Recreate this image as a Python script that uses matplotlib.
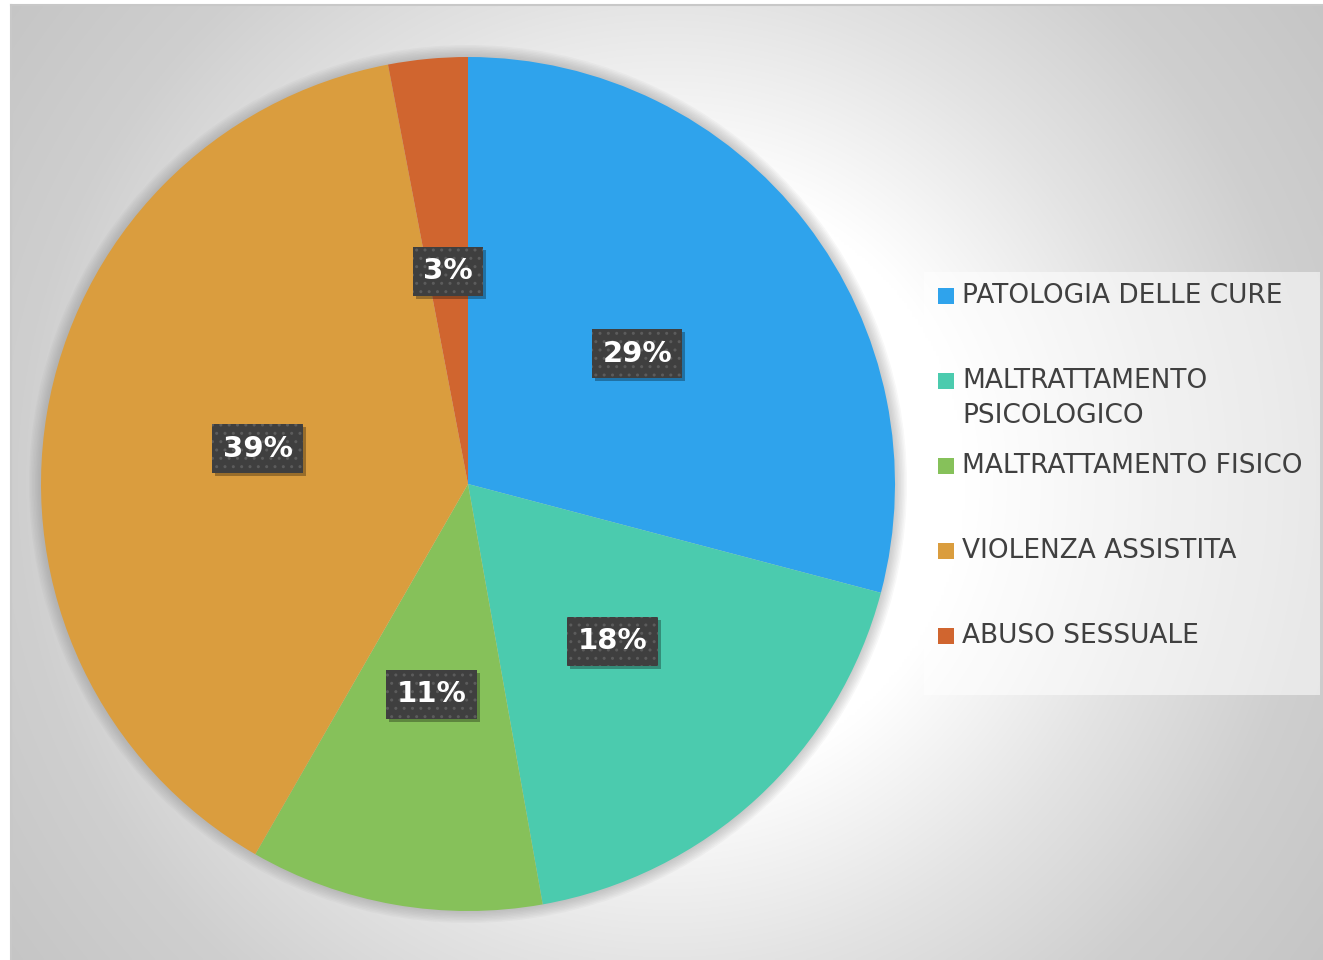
import numpy as np
import matplotlib
matplotlib.use("Agg")
import matplotlib.pyplot as plt
from matplotlib.patches import Circle, Rectangle
from matplotlib.transforms import IdentityTransform

# data
categories = ["PATOLOGIA DELLE CURE", "MALTRATTAMENTO\nPSICOLOGICO",
              "MALTRATTAMENTO FISICO", "VIOLENZA ASSISTITA", "ABUSO SESSUALE"]
shares = [29.1, 18.1, 11.1, 38.7, 3.0]
colors = ["#2FA3EC", "#4BCBAE", "#86C15A", "#DA9D3E", "#D0652F"]

W, H = 1323, 960
fig = plt.figure(figsize=(W / 100, H / 100), dpi=100)
fig.patch.set_facecolor("white")

# chart-area background: radial grey gradient around the area centre
bg = fig.add_axes([11 / W, 0, (W - 11) / W, (H - 5) / H])
xs = np.linspace(11, W, 500)
ys = np.linspace(5, H, 360)
gx, gy = np.meshgrid(xs, ys)
r = np.hypot(gx - 667, gy - 482)
shade = np.interp(r, [0, 300, 490, 650, 820], [255, 255, 227, 207, 197]) / 255.0
bg.imshow(np.dstack([shade, shade, shade]), aspect="auto", extent=[11, W, H, 5],
          interpolation="bilinear")
bg.set_xlim(11, W)
bg.set_ylim(H, 5)
bg.set_xticks([])
bg.set_yticks([])
for side in ["right", "bottom"]:
    bg.spines[side].set_visible(False)
for side in ["top", "left"]:
    bg.spines[side].set_color("#c8c8c8")
    bg.spines[side].set_linewidth(1.5)

# pie: radius 427 px, centre at (468, 484)
ax = fig.add_axes([(41 - 854 * 0.025) / W, (H - 911 - 854 * 0.025) / H,
                   854 * 1.05 / W, 854 * 1.05 / H])
ax.axis("off")

for k in range(8, 0, -1):
    ax.add_patch(Circle((0, 0), 1 + 0.0035 * k, fc="#888888", ec="none", alpha=0.06, zorder=0))

wedges, texts, autotexts = ax.pie(
    shares, colors=colors, startangle=90, counterclock=False,
    autopct="%1.0f%%", pctdistance=0.5, radius=1,
    wedgeprops=dict(linewidth=0, zorder=1),
    textprops=dict(color="white", fontsize=21, fontweight="bold", family="DejaVu Sans"),
)
ax.set_xlim(-1.05, 1.05)
ax.set_ylim(-1.05, 1.05)
ax.set_aspect("equal")

for t in autotexts:
    t.set_zorder(4)
    t.set_bbox(dict(boxstyle="square,pad=0.36", fc="#3F3F3F", ec="#5C5C5C", lw=0, hatch=".."))

# drop shadow behind each label box (drawn inside the pie axes, under the label)
fig.canvas.draw()
for t in autotexts:
    bb = t.get_bbox_patch().get_window_extent()
    ax.add_artist(Rectangle((bb.x0 + 3, bb.y0 - 3), bb.width, bb.height,
                            transform=IdentityTransform(), fc="black", ec="none",
                            alpha=0.3, zorder=3))

# legend
fig.patches.append(Rectangle((924 / W, (H - 695) / H), 396 / W, 423 / H,
                             transform=fig.transFigure, fc="white", ec="none",
                             alpha=0.55, zorder=1))
rows = [296, 381, 466, 551, 636]
for label, c, yp in zip(categories, colors, rows):
    fig.patches.append(Rectangle((938 / W, (H - yp - 8) / H), 16 / W, 16 / H,
                                 transform=fig.transFigure, fc=c, ec="none", zorder=2))
    for i, line in enumerate(label.split("\n")):
        fig.text(962 / W, (H - yp - 35 * i) / H, line, ha="left", va="center",
                 color="#404040", fontsize=19, zorder=3)

fig.savefig("out.png", dpi=100)
